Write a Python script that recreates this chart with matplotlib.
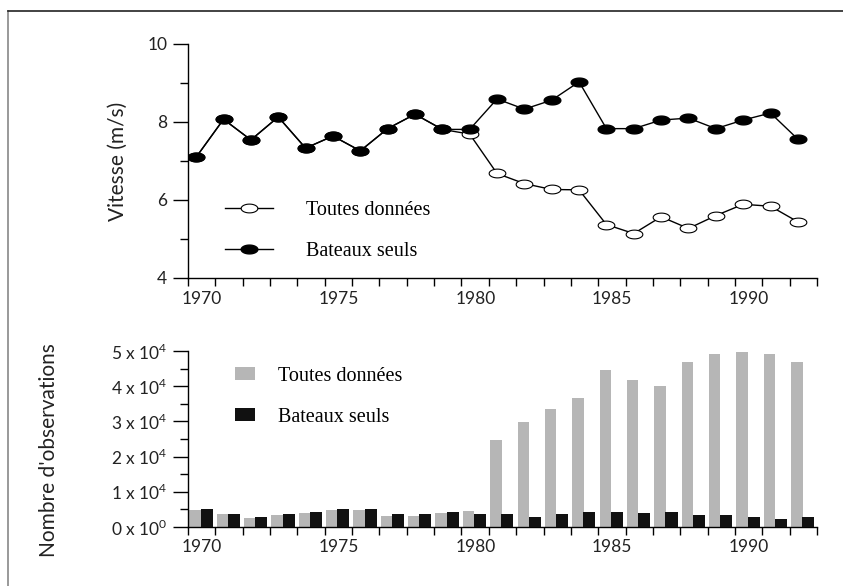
import matplotlib
matplotlib.use('Agg')
import matplotlib.pyplot as plt
import matplotlib.transforms as mtransforms
from matplotlib.path import Path
from matplotlib.lines import Line2D
import numpy as np

# ---------------- data ----------------
years = list(range(1970, 1993))
vitesse_bateaux = [7.10, 8.07, 7.54, 8.13, 7.33, 7.64, 7.26, 7.83, 8.20, 7.81, 7.81,
                   8.59, 8.33, 8.56, 9.03, 7.83, 7.83, 8.05, 8.10, 7.83, 8.05, 8.23, 7.56]
vitesse_toutes = [7.10, 8.07, 7.54, 8.13, 7.33, 7.64, 7.26, 7.83, 8.20, 7.81, 7.69,
                  6.68, 6.42, 6.27, 6.26, 5.37, 5.14, 5.57, 5.27, 5.60, 5.89, 5.84, 5.44]
obs_toutes = [4800, 3600, 2600, 3500, 4100, 4700, 4700, 3100, 3100, 4000, 4600,
              24700, 29900, 33500, 36600, 44600, 41800, 40100, 46800, 49100, 49800, 49100, 46800]
obs_bateaux = [5000, 3600, 2840, 3600, 4260, 5000, 5000, 3600, 3600, 4260, 3600,
               3600, 2840, 3600, 4260, 4260, 4000, 4260, 3500, 3500, 2840, 2370, 2840]
year_labels = [1970, 1975, 1980, 1985, 1990]
speed_ticks = [4, 6, 8, 10]
obs_ticks = [0, 10000, 20000, 30000, 40000, 50000]
obs_ticklabels = [r'0 x 10$^0$', r'1 x 10$^4$', r'2 x 10$^4$', r'3 x 10$^4$', r'4 x 10$^4$', r'5 x 10$^4$']
label_toutes = 'Toutes données'
label_bateaux = 'Bateaux seuls'

# ---------------- style ----------------
tick_font = 'Lato'
legend_font = 'Liberation Serif'
plt.rcParams['font.family'] = [tick_font, 'DejaVu Sans']
plt.rcParams['mathtext.fontset'] = 'custom'
plt.rcParams['mathtext.rm'] = tick_font
text_color = '#222222'

W, H = 843, 586
fig = plt.figure(figsize=(W / 100, H / 100), dpi=100)

# flat ellipse marker
t = np.linspace(0, 2 * np.pi, 60)
ellipse = Path(np.column_stack([1.9 * np.cos(t), np.sin(t)]), closed=True)

x_top = np.array(years) + 0.3
x_bar = np.array(years)

def px_axes(l, r, t_, b):
    return [l / W, 1 - b / H, (r - l) / W, (b - t_) / H]

ax1 = fig.add_axes(px_axes(188, 817, 44, 278))
ax2 = fig.add_axes(px_axes(188, 817, 351, 527))

for ax in (ax1, ax2):
    for s in ('top', 'right'):
        ax.spines[s].set_visible(False)
    ax.spines['left'].set_linewidth(1.0)
    ax.spines['bottom'].set_linewidth(1.0)
    ax.set_xlim(1970, 1993)
    ax.set_xticks(list(range(1970, 1994)))
    ax.set_xticklabels([str(y) if y in year_labels else '' for y in range(1970, 1994)])
    ax.tick_params(axis='x', direction='out', length=6, width=1.0, labelsize=12.5, pad=3,
                   labelcolor=text_color)
    ax.tick_params(axis='y', which='major', direction='out', length=11, width=1.0, labelsize=12.5,
                   pad=4, labelcolor=text_color)
    ax.tick_params(axis='y', which='minor', direction='out', length=6, width=1.0)
    ax.set_facecolor('none')
    offset = mtransforms.ScaledTranslation(14 / 100, 0, fig.dpi_scale_trans)
    for lab in ax.get_xticklabels():
        lab.set_transform(lab.get_transform() + offset)

# --------------- top panel ---------------
l_toutes, = ax1.plot(x_top, vitesse_toutes, color='black', lw=1.0, marker=ellipse,
                     markersize=12, markerfacecolor='white', markeredgecolor='black',
                     markeredgewidth=0.8, label=label_toutes, zorder=2)
l_bateaux, = ax1.plot(x_top, vitesse_bateaux, color='black', lw=1.0, marker=ellipse,
                      markersize=12, markerfacecolor='black', markeredgecolor='black',
                      label=label_bateaux, zorder=3)
ax1.set_ylim(4, 10)
ax1.set_yticks(speed_ticks)
ax1.set_yticks([5, 7, 9], minor=True)
ax1.set_ylabel('Vitesse (m/s)', fontsize=15, color=text_color)
ax1.yaxis.set_label_coords(-0.095, 0.5)
leg1 = ax1.legend(handles=[l_toutes, l_bateaux], loc='center left', bbox_to_anchor=(0.0588, 0.201),
                  frameon=False, borderpad=0, borderaxespad=0, handlelength=2.4,
                  handletextpad=1.6, labelspacing=1.1,
                  prop={'family': legend_font, 'size': 14.5})

# --------------- bottom panel ---------------
b_toutes = ax2.bar(x_bar + 0.05, obs_toutes, width=0.42, align='edge', color='#b6b6b6',
                   label=label_toutes, zorder=2)
b_bateaux = ax2.bar(x_bar + 0.46, obs_bateaux, width=0.44, align='edge', color='#111111',
                    label=label_bateaux, zorder=3)
ax2.set_ylim(0, 50000)
ax2.set_yticks(obs_ticks)
ax2.set_yticklabels(obs_ticklabels)
ax2.set_yticks(list(range(5000, 50000, 10000)), minor=True)
ax2.set_ylabel("Nombre d'observations", fontsize=15, color=text_color)
ax2.yaxis.set_label_coords(-0.205, 0.4375)
leg2 = ax2.legend(handles=[b_toutes, b_bateaux], loc='center left', bbox_to_anchor=(0.0747, 0.741),
                  frameon=False, borderpad=0, borderaxespad=0, handlelength=1.0,
                  handleheight=0.65, handletextpad=1.15, labelspacing=1.1,
                  prop={'family': legend_font, 'size': 14.5})

# frame lines (top & left border of the figure)
fig.add_artist(Line2D([7.5 / W, 7.5 / W], [0, 1 - 10.5 / H], color='#888888', lw=1.2,
                      transform=fig.transFigure))
fig.add_artist(Line2D([7.5 / W, 1], [1 - 10.5 / H, 1 - 10.5 / H], color='#222222', lw=1.2,
                      transform=fig.transFigure))

fig.savefig('out.png', dpi=100)
